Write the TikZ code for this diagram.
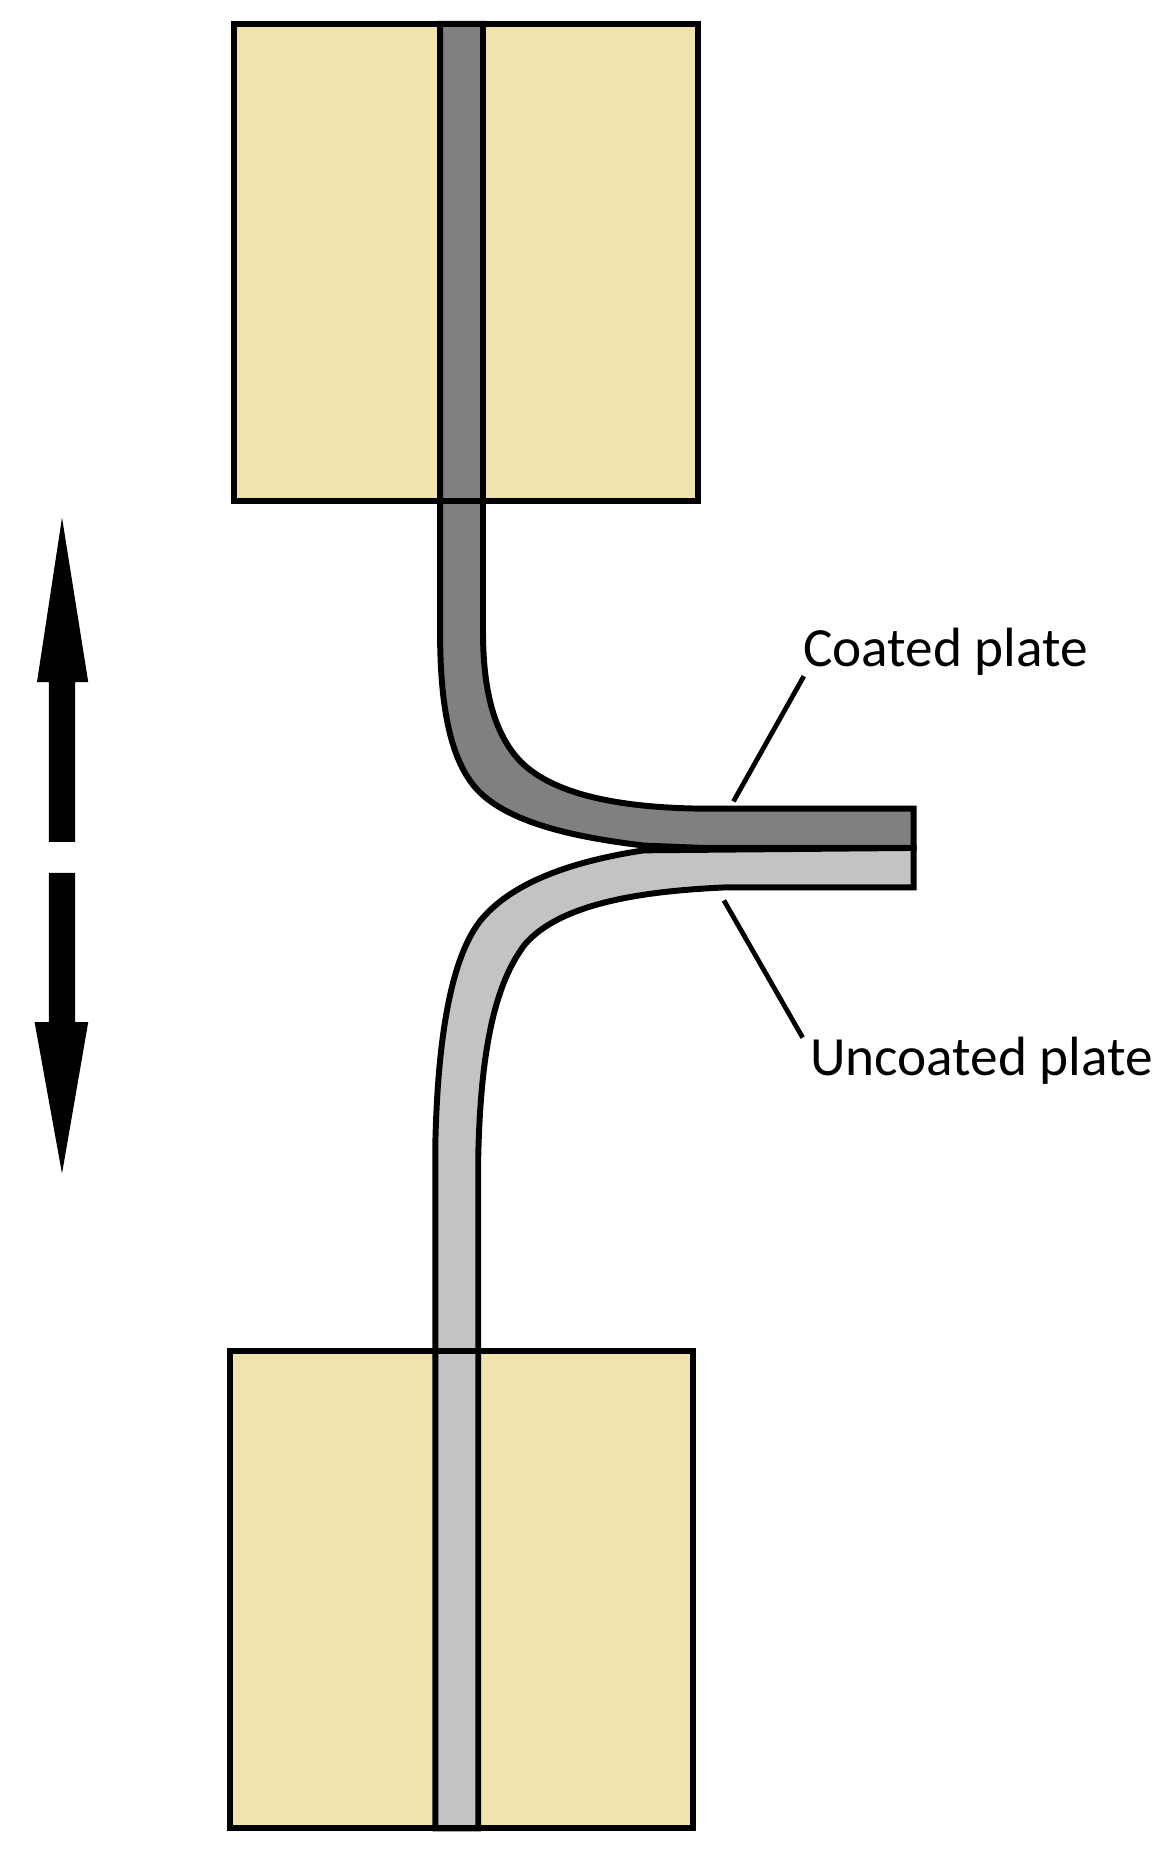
\documentclass[tikz,border=0pt]{standalone}
\usepackage{fontspec}
\setmainfont{Carlito}
\definecolor{jaw}{HTML}{F0E3AE}
\definecolor{darkplate}{HTML}{808080}
\definecolor{lightplate}{HTML}{C3C3C3}
\tikzset{
  jawfill/.style={fill=jaw,draw=none},
  jawline/.style={draw=black,line width=0.1cm,fill=none},
  plate/.style={draw=black,line width=0.1cm,line join=miter},
  leader/.style={draw=black,line width=0.08cm},
  lbl/.style={inner sep=0pt,anchor=base west,font=\fontsize{26.4}{30}\selectfont,text=black},
  bigarrow/.style={fill=black,draw=none}
}
\begin{document}
\begin{tikzpicture}[x=0.02cm,y=-0.02cm]
\useasboundingbox (0,0) rectangle (976,1568);
% jaws
\path[jawfill] (196,20) rectangle (585,420);
\path[jawfill] (193,1133) rectangle (581,1533);
% uncoated plate
\path[plate,fill=lightplate] (365,1533) -- (365,960)
  .. controls (367,870) and (378,805) .. (402,773)
  .. controls (428,740) and (480,722) .. (540,713)
  -- (766,711) -- (766,744) -- (610,744)
  .. controls (540,747) and (470,757) .. (440,792)
  .. controls (415,825) and (403,880) .. (401,970)
  -- (401,1533) -- cycle;
% coated plate
\path[plate,fill=darkplate] (369,20) -- (369,530)
  .. controls (369,600) and (380,640) .. (400,662)
  .. controls (428,692) and (490,703) .. (540,709)
  -- (590,711) -- (766,711) -- (766,678) -- (585,678)
  .. controls (525,677) and (465,668) .. (436,638)
  .. controls (417,618) and (405,585) .. (405,530)
  -- (405,20) -- cycle;
\path[fill=black] (528,708) -- (590,709) -- (590,713) -- (545,714) -- cycle;
% jaw outlines
\path[jawline] (196,20) rectangle (585,420);
\path[jawline] (193,1133) rectangle (581,1533);
% load arrows
\path[bigarrow] (52,434) -- (74,572) -- (63,572) -- (63,706) -- (41,706) -- (41,572) -- (31,572) -- cycle;
\path[bigarrow] (52,984) -- (74,857) -- (63,857) -- (63,732) -- (41,732) -- (41,857) -- (29,857) -- cycle;
% labels and leaders
\node[lbl] (coated) at (673,559) {Coated plate};
\node[lbl] (uncoated) at (679,902) {Uncoated plate};
\coordinate (ca) at (674,567);
\coordinate (cb) at (615,672);
\coordinate (ua) at (607,755);
\coordinate (ub) at (673,870);
\draw[leader] (ca) -- (cb);
\draw[leader] (ua) -- (ub);
\end{tikzpicture}
\end{document}
